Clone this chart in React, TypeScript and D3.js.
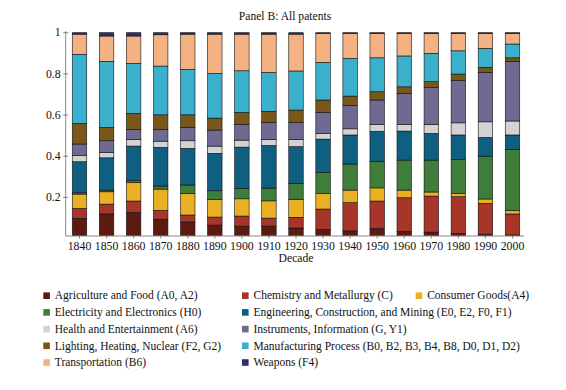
import React from "react";
import * as d3 from "d3";

const decades = ["1840","1850","1860","1870","1880","1890","1900","1910","1920","1930","1940","1950","1960","1970","1980","1990","2000"];

const seriesNames = [
  "Agriculture and Food (A0, A2)",
  "Chemistry and Metallurgy (C)",
  "Consumer Goods(A4)",
  "Electricity and Electronics (H0)",
  "Engineering, Construction, and Mining (E0, E2, F0, F1)",
  "Health and Entertainment (A6)",
  "Instruments, Information (G, Y1)",
  "Lighting, Heating, Nuclear (F2, G2)",
  "Manufacturing Process (B0, B2, B3, B4, B8, D0, D1, D2)",
  "Transportation (B6)",
  "Weapons (F4)",
];

const seriesColors = ["#5c1a10","#a8352a","#e9b023","#3f7d3a","#0e5f80","#d3d3d3","#6e6a92","#79561a","#3bb0cc","#f4b282","#322d6e"];

const agriculture = [.098,.119,.127,.094,.080,.065,.060,.060,.051,.044,.037,.049,.035,.031,.025,.021,.017];
const chemistry   = [.048,.048,.055,.043,.034,.039,.049,.039,.052,.099,.137,.133,.163,.175,.178,.150,.102];
const consumer    = [.070,.060,.091,.103,.105,.086,.084,.084,.087,.076,.061,.064,.037,.020,.016,.021,.016];
const electricity = [.006,.008,.009,.015,.041,.042,.050,.062,.078,.102,.127,.129,.146,.155,.165,.208,.298];
const engineering = [.151,.157,.167,.188,.178,.182,.201,.207,.178,.162,.141,.146,.141,.130,.119,.091,.070];
const health      = [.031,.025,.033,.030,.037,.035,.034,.030,.036,.028,.030,.034,.033,.044,.059,.076,.068];
const instruments = [.055,.058,.048,.057,.065,.078,.077,.082,.082,.102,.114,.118,.150,.179,.205,.240,.290];
const lighting    = [.100,.065,.078,.071,.061,.058,.058,.054,.060,.060,.045,.040,.032,.028,.032,.025,.017];
const manufacturing = [.336,.321,.243,.237,.221,.217,.202,.189,.190,.183,.183,.165,.150,.138,.113,.092,.067];
const transportation = [.098,.123,.133,.152,.171,.191,.178,.186,.179,.141,.122,.119,.110,.097,.085,.073,.052];
const weapons     = [.007,.016,.016,.010,.007,.007,.007,.007,.007,.003,.003,.003,.003,.003,.003,.003,.003];

const yTicks = [0.2, 0.4, 0.6, 0.8, 1];

const allSeries = [agriculture, chemistry, consumer, electricity, engineering, health, instruments, lighting, manufacturing, transportation, weapons];

const FONT = "'Liberation Serif', 'Times New Roman', serif";

export default function App() {
  const W = 566, H = 390;
  const axisLeft = 65.7, axisRight = 524, axisBottom = 236, axisTop = 31;
  const x = d3.scalePoint<string>().domain(decades).range([79.5, 512.5]);
  const barW = x.step() * 0.535;
  const y = d3.scaleLinear().domain([0, 1]).range([238.5, 32.7]);

  const table = decades.map((d, i) => {
    const row: any = { decade: d };
    seriesNames.forEach((n, k) => (row[n] = allSeries[k][i]));
    return row;
  });
  const stacked = d3.stack<any>().keys(seriesNames)(table);

  const legendRows: [number, number, number][] = [
    [0, 0, 0], [1, 0, 1], [2, 0, 2],
    [3, 1, 0], [4, 1, 1],
    [5, 2, 0], [6, 2, 1],
    [7, 3, 0], [8, 3, 1],
    [9, 4, 0], [10, 4, 1],
  ];
  const colX = [43.3, 242, 415.7];
  const rowY = d3.scaleLinear().domain([0, 1]).range([295.7, 312.4]);

  return (
    <svg width={W} height={H} style={{ position: "absolute", left: 0, top: 0, fontFamily: FONT }}>
      <defs>
        <clipPath id="plotclip">
          <rect x={axisLeft} y={0} width={axisRight - axisLeft} height={axisBottom} />
        </clipPath>
      </defs>
      <rect x={0} y={0} width={W} height={H} fill="#fff" />
      <text x={285} y={20} textAnchor="middle" fontSize={11.6} fill="#111">Panel B: All patents</text>
      <g clipPath="url(#plotclip)">
        {stacked.map((s, k) => (
          <g key={k} fill={seriesColors[k]} stroke="#111" strokeWidth={0.6}>
            {s.map((p, i) => (
              <rect key={i} x={(x(decades[i]) as number) - barW / 2} y={y(p[1])} width={barW} height={y(p[0]) - y(p[1])} />
            ))}
          </g>
        ))}
      </g>
      <line x1={axisLeft} x2={axisLeft} y1={axisTop} y2={axisBottom} stroke="#888" strokeWidth={1} />
      <line x1={axisLeft} x2={axisRight} y1={axisBottom} y2={axisBottom} stroke="#888" strokeWidth={1} />
      {yTicks.map((t) => (
        <g key={t}>
          <line x1={axisLeft - 2.5} x2={axisLeft + 2.5} y1={y(t)} y2={y(t)} stroke="#666" strokeWidth={0.8} />
          <text x={axisLeft - 5} y={y(t) + 3.7} textAnchor="end" fontSize={11.8} fill="#111">{String(t)}</text>
        </g>
      ))}
      {decades.map((d) => (
        <g key={d}>
          <line x1={x(d)} x2={x(d)} y1={axisBottom} y2={axisBottom + 2.5} stroke="#666" strokeWidth={0.8} />
          <text x={x(d)} y={249.5} textAnchor="middle" fontSize={11.8} fill="#111">{d}</text>
        </g>
      ))}
      <text x={296} y={261.5} textAnchor="middle" fontSize={11.6} fill="#111">Decade</text>
      {legendRows.map(([k, r, c]) => (
        <g key={k}>
          <rect x={colX[c]} y={rowY(r) - 3.3} width={6.6} height={6.6} fill={seriesColors[k]} />
          <text x={colX[c] + 11.5} y={rowY(r) + 3.7} fontSize={11.5} fill="#111">{seriesNames[k]}</text>
        </g>
      ))}
    </svg>
  );
}
